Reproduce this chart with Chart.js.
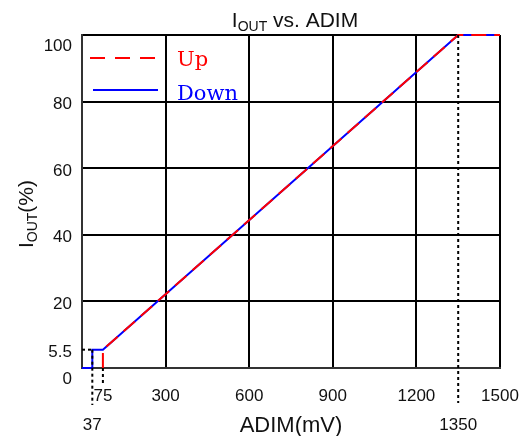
<!DOCTYPE html>
<html>
<head>
<meta charset="utf-8">
<script src="https://cdn.jsdelivr.net/npm/chart.js@4"></script>
<style>
  html, body { margin: 0; padding: 0; background: #fff; }
  #wrap { width: 525px; height: 436px; }
</style>
</head>
<body>
<div id="wrap"><canvas id="iout"></canvas></div>
<script>
// IOUT vs. ADIM, up and down sweep
const upX = [75, 75, 1350, 1500];
const upY = [0, 5.5, 100, 100];
const downX = [1500, 1350, 75, 37, 37, 0];
const downY = [100, 100, 5.5, 5.5, 0, 0];

const xTicks = [0, 37, 75, 300, 600, 900, 1200, 1350, 1500];
const xGrid = [300, 600, 900, 1200, 1500];
const xLowRow = [37, 1350];
const yTicks = [0, 5.5, 20, 40, 60, 80, 100];
const yGrid = [20, 40, 60, 80, 100];
const yShifted = [0, 100];

// guide values for the dotted marker lines
const guideX = [37, 75, 1350];
const guideY = 5.5;

const sans = '"Liberation Sans", Arial, sans-serif';
const pts = (xs, ys) => xs.map((x, i) => ({ x: x, y: ys[i] }));

const extras = {
  id: 'extras',
  afterDatasetsDraw(chart) {
    const { ctx, chartArea: a, scales: { x, y } } = chart;
    ctx.save();
    // dotted guides
    ctx.strokeStyle = '#000';
    ctx.lineWidth = 2;
    ctx.setLineDash([3, 3]);
    const seg = (x1, y1, x2, y2) => {
      ctx.beginPath(); ctx.moveTo(x1, y1); ctx.lineTo(x2, y2); ctx.stroke();
    };
    seg(a.left, y.getPixelForValue(guideY), x.getPixelForValue(guideX[0]), y.getPixelForValue(guideY));
    seg(x.getPixelForValue(guideX[0]), y.getPixelForValue(guideY), x.getPixelForValue(guideX[0]), a.bottom + 37);
    seg(x.getPixelForValue(guideX[1]), a.bottom, x.getPixelForValue(guideX[1]), a.bottom + 17);
    seg(x.getPixelForValue(guideX[2]), a.top, x.getPixelForValue(guideX[2]), a.bottom + 35);

    // legend inside the plot
    ctx.lineWidth = 2;
    ctx.strokeStyle = '#ff0000';
    ctx.setLineDash([15, 10]);
    seg(a.left + 8, a.top + 23, a.left + 76, a.top + 23);
    ctx.setLineDash([]);
    ctx.strokeStyle = '#0000ff';
    seg(a.left + 11, a.top + 55, a.left + 76, a.top + 55);
    ctx.font = '21px "DejaVu Serif", serif';
    ctx.textAlign = 'left';
    ctx.textBaseline = 'alphabetic';
    ctx.fillStyle = '#ff0000';
    ctx.fillText('Up', a.left + 95, a.top + 31);
    ctx.fillStyle = '#0000ff';
    ctx.fillText('Down', a.left + 95, a.top + 65);

    // titles with subscripts
    ctx.fillStyle = '#111';
    const big = '21px ' + sans, small = '14px ' + sans;
    const parts = [['I', big, 0], ['OUT', small, 4], [' vs. ADIM', big, 0]];
    const widthOf = (list) => list.reduce((s, p) => { ctx.font = p[1]; return s + ctx.measureText(p[0]).width; }, 0);
    let cx = 295 - widthOf(parts) / 2;
    parts.forEach(p => { ctx.font = p[1]; ctx.fillText(p[0], cx, 27 + p[2]); cx += ctx.measureText(p[0]).width; });

    const yParts = [['I', big, 0], ['OUT', small, 4], ['(%)', big, 0]];
    ctx.save();
    ctx.translate(33, 214);
    ctx.rotate(-Math.PI / 2);
    let ly = -widthOf(yParts) / 2;
    yParts.forEach(p => { ctx.font = p[1]; ctx.fillText(p[0], ly, p[2]); ly += ctx.measureText(p[0]).width; });
    ctx.restore();

    ctx.font = '22px ' + sans;
    ctx.textAlign = 'center';
    ctx.fillText('ADIM(mV)', (a.left + a.right) / 2, 432);
    ctx.restore();
  }
};

new Chart(document.getElementById('iout'), {
  type: 'line',
  data: {
    datasets: [
      { label: 'Up', data: pts(upX, upY), borderColor: '#ff0000', borderWidth: 2, borderDash: [15, 8], pointRadius: 0, tension: 0, fill: false, clip: false },
      { label: 'Down', data: pts(downX, downY), borderColor: '#0000ff', borderWidth: 2, pointRadius: 0, tension: 0, fill: false, clip: false }
    ]
  },
  options: {
    responsive: true,
    maintainAspectRatio: false,
    animation: false,
    layout: { padding: { left: 0, top: 35, right: 25, bottom: 0 } },
    plugins: { legend: { display: false }, tooltip: { enabled: false } },
    scales: {
      x: {
        type: 'linear', min: 0, max: 1500,
        afterBuildTicks: s => { s.ticks = xTicks.map(v => ({ value: v })); },
        afterFit: s => { s.height = 68; s.paddingLeft = 0; s.paddingRight = 0; },
        grid: { drawTicks: false, lineWidth: 2, color: c => xGrid.includes(c.tick && c.tick.value) ? '#000' : 'rgba(0,0,0,0)' },
        border: { color: '#333', width: 2 },
        ticks: {
          autoSkip: false, maxRotation: 0, padding: 14, color: '#111',
          font: { family: sans, size: 17, lineHeight: 1.7 },
          callback: v => v === 0 ? '' : (xLowRow.includes(v) ? ['', String(v)] : String(v))
        }
      },
      y: {
        type: 'linear', min: 0, max: 100,
        afterBuildTicks: s => { s.ticks = yTicks.map(v => ({ value: v })); },
        afterFit: s => { s.width = 82; s.paddingTop = 0; s.paddingBottom = 0; },
        grid: { drawTicks: false, lineWidth: 2, color: c => yGrid.includes(c.tick && c.tick.value) ? '#000' : 'rgba(0,0,0,0)' },
        border: { color: '#333', width: 2 },
        ticks: {
          autoSkip: false, padding: 10, color: '#111', labelOffset: 3,
          font: { family: sans, size: 17, lineHeight: 1 },
          callback: v => yShifted.includes(v) ? ['', String(v)] : String(v)
        }
      }
    }
  },
  plugins: [extras]
});
</script>
</body>
</html>
